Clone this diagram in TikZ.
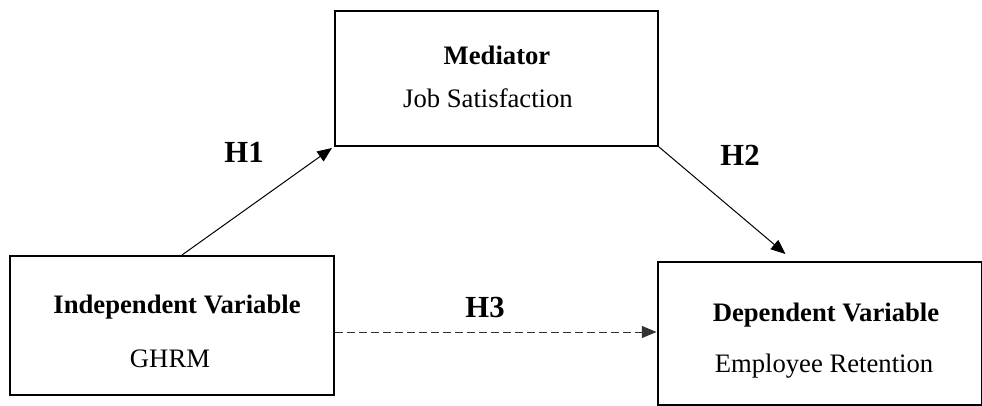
\documentclass[tikz,border=0pt]{standalone}
\usepackage{fontspec}
\setmainfont{Liberation Serif}
\usetikzlibrary{arrows.meta,calc}
\begin{document}
\begin{tikzpicture}[x=0.75pt,y=-0.75pt,
  box/.style={draw=black,line width=1.5pt,rectangle,inner sep=0pt},
  title/.style={font=\fontsize{20}{24}\selectfont\bfseries,anchor=base,inner sep=0pt},
  sub/.style={font=\fontsize{20}{24}\selectfont,anchor=base,inner sep=0pt},
  hyp/.style={font=\fontsize{23}{27}\selectfont\bfseries,inner sep=0pt},
  link/.style={draw=black,line width=0.75pt,-{Triangle[length=11pt,width=9pt]}},
  dlink/.style={link,draw=black!80,dash pattern=on 6pt off 3pt}]
\useasboundingbox (0,0) rectangle (982,406);
\node[box,minimum width=242.25pt,minimum height=101.6pt] (med) at (496.5,78.25) {};
\node[box,minimum width=243pt,minimum height=104.25pt] (ind) at (172,325.5) {};
\node[box,minimum width=243pt,minimum height=107.25pt] (dep) at (819.5,333.5) {};
\node[title] (medt) at (497,65) {Mediator};
\node[sub] (meds) at (488,108) {Job Satisfaction};
\node[title] (indt) at (177,313) {Independent Variable};
\node[sub] (inds) at (170,367) {GHRM};
\node[title] (dept) at (826,321) {Dependent Variable};
\node[sub] (deps) at (824,372) {Employee Retention};
\node[hyp] (h1) at (244,152) {H1};
\node[hyp] (h2) at (740,155) {H2};
\node[hyp] (h3) at (485,307) {H3};
\coordinate (h2end) at ($(dep.north west)+(129,-7)$);
\draw[link] ($(ind.north west)+(173,0)$) -- ($(med.south west)+(-2,1)$);
\draw[link] (med.south east) -- (h2end);
\draw[dlink] ($(ind.east)+(0,6.5)$) -- ($(dep.west)+(0,-1.5)$);
\end{tikzpicture}
\end{document}
